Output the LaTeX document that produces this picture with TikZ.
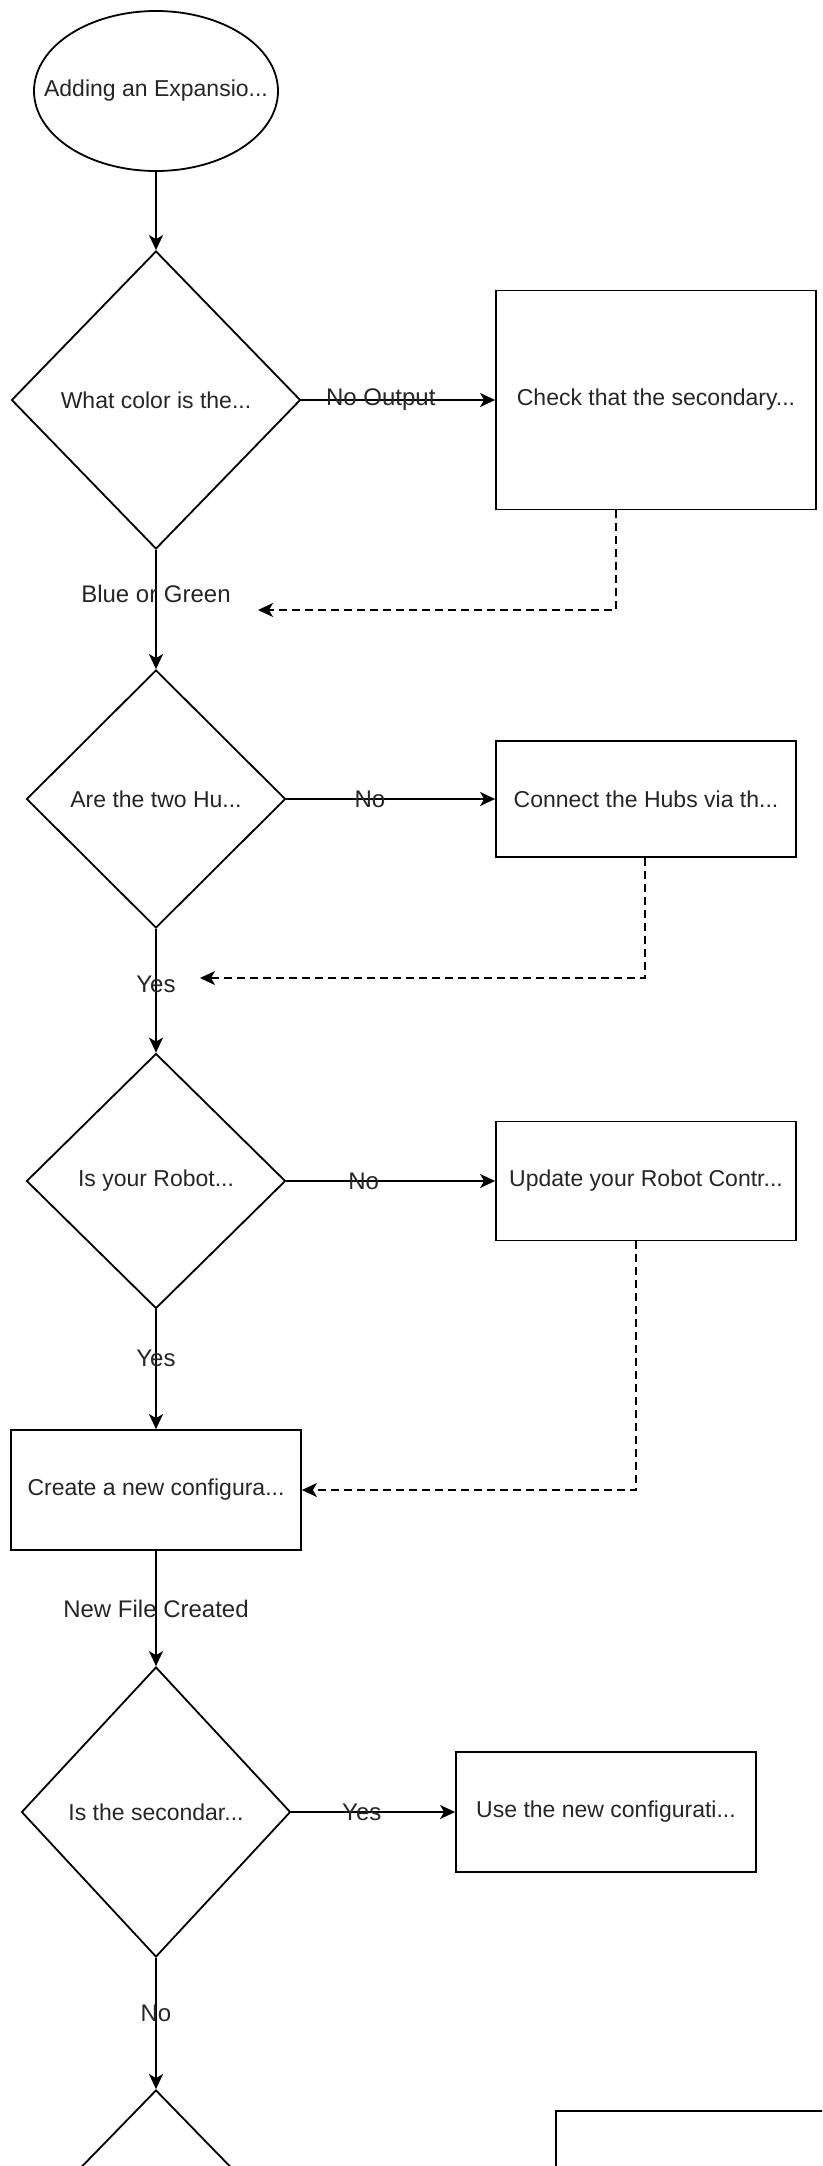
\documentclass[tikz,border=0pt]{standalone}
\usepackage{fontspec}
\setmainfont{Liberation Sans}
\usetikzlibrary{shapes.geometric,arrows.meta}
\tikzset{
  base/.style={draw=black, line width=1.8pt, inner sep=0pt, text=black!85, font=\fontsize{23}{27}\selectfont},
  startnode/.style={base, ellipse, minimum width=244pt, minimum height=160pt},
  decision/.style={base, diamond, minimum width=#1, minimum height=298pt},
  decision/.default=289pt,
  procbox/.style={base, rectangle},
  flow/.style={line width=1.8pt, -{Stealth[length=15pt,width=14pt,inset=4pt]}},
  back/.style={line width=1.6pt, dash pattern=on 8pt off 5pt, -{Stealth[length=15pt,width=14pt,inset=4pt]}},
  lbl/.style={text=black!85, font=\fontsize{24}{28}\selectfont, inner sep=0pt},
  intext/.style={text=black!85, font=\fontsize{23}{27}\selectfont, inner sep=0pt}
}
\begin{document}
\begin{tikzpicture}[x=1pt,y=-1pt]
\useasboundingbox (0,0) rectangle (822,2166);
\clip (0,0) rectangle (822,2166);
\fill[white] (0,0) rectangle (822,2166);

\node[startnode] (start) at (156,91) {};
\node[intext] (startt) at (start.center) {Adding an Expansio...};

\node[decision] (d1) at (156,400) {What color is the...};
\node[procbox, minimum width=320pt, minimum height=219pt] (b1) at (656,400) {};
\node[intext] (b1t) at (b1.center) {Check that the secondary...};

\node[decision=259pt, minimum height=258pt] (d2) at (156,799) {Are the two Hu...};
\node[procbox, minimum width=300pt, minimum height=116pt] (b2) at (646,799) {};
\node[intext] (b2t) at (b2.center) {Connect the Hubs via th...};

\node[decision=259pt, minimum height=255pt] (d3) at (156,1181) {Is your Robot...};
\node[procbox, minimum width=300pt, minimum height=119pt] (b3) at (646,1181) {};
\node[intext] (b3t) at (b3.center) {Update your Robot Contr...};

\node[procbox, minimum width=290pt, minimum height=120pt] (b4) at (156,1490) {};
\node[intext] (b4t) at (b4.center) {Create a new configura...};

\node[decision=269pt, minimum height=290pt] (d5) at (156,1812) {Is the secondar...};
\node[procbox, minimum width=300pt, minimum height=120pt] (b5) at (606,1812) {};
\node[intext] (b5t) at (b5.center) {Use the new configurati...};

\node[decision=290pt, minimum height=298pt] (d6) at (156,2239) {};
\node[procbox, minimum width=320pt, minimum height=140pt, anchor=north west] (b6) at (555,2110) {};

% main flow
\draw[flow] (start.south) -- (d1.north);
\draw[flow] (d1.east) -- node[lbl, pos=0.41] {No Output} (b1.west);
\draw[flow] (d1.south) -- node[lbl, pos=0.37] {Blue or Green} (d2.north);
\draw[flow] (d2.east) -- node[lbl, pos=0.40] {No} (b2.west);
\draw[flow] (d2.south) -- node[lbl, pos=0.45] {Yes} (d3.north);
\draw[flow] (d3.east) -- node[lbl, pos=0.37] {No} (b3.west);
\draw[flow] (d3.south) -- node[lbl, pos=0.41] {Yes} (b4.north);
\draw[flow] (b4.south) -- node[lbl, pos=0.5] {New File Created} (d5.north);
\draw[flow] (d5.east) -- node[lbl, pos=0.43] {Yes} (b5.west);
\draw[flow] (d5.south) -- node[lbl, pos=0.42] {No} (d6.north);

% dashed returns
\coordinate (r1a) at ([xshift=-40pt]b1.south);
\coordinate (r1) at (258,610);
\draw[back] (r1a) |- (r1);
\coordinate (r2a) at ([xshift=-1pt]b2.south);
\coordinate (r2) at (200,978);
\draw[back] (r2a) |- (r2);
\coordinate (r3a) at ([xshift=-10pt]b3.south);
\draw[back] (r3a) |- (b4.east);
\end{tikzpicture}
\end{document}
